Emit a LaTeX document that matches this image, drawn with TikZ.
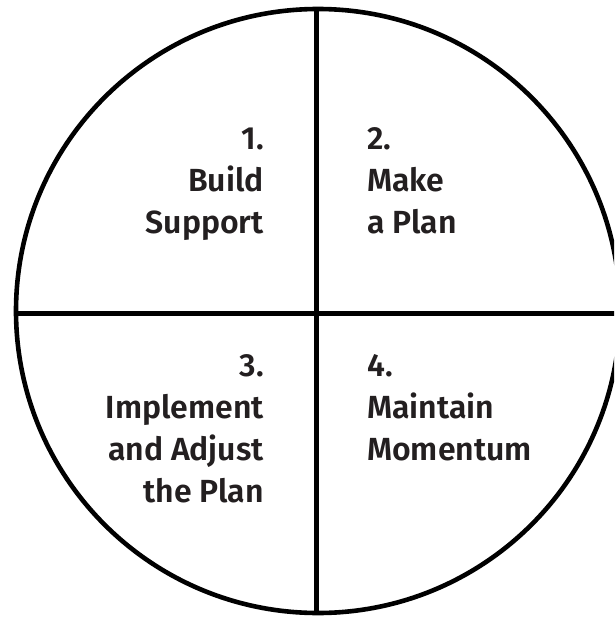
\documentclass[tikz,border=0pt]{standalone}
\usepackage{fontspec}
\setmainfont{Fira Sans}[BoldFont={Fira Sans SemiBold}]
\usetikzlibrary{positioning}
\definecolor{ink}{RGB}{35,31,32}

\begin{document}
\begin{tikzpicture}[x=1pt,y=-1pt,
  quarter/.style={font=\bfseries\fontsize{32}{42}\selectfont, text=ink, inner sep=0pt},
  rim/.style={line width=4.6pt}]
\clip (0,0) rectangle (614,618);

\coordinate (c) at (318,311);
\coordinate (top) at (316.5,8.5);
\coordinate (bot) at (316.5,613);
\coordinate (lft) at (16,313.5);
\coordinate (rgt) at (630,313.5);

\draw[rim] (c) circle (302pt);
\draw[rim] (top) -- (bot);
\draw[rim] (lft) -- (rgt);

% base anchor sits on the last line
\node[quarter, align=right, anchor=base east] (q1) at (264,233) {1.\\Build\\Support};
\node[quarter, align=left, anchor=base west] (q2) at (367,233) {2.\\Make\\a Plan};
\node[quarter, align=right, anchor=base east] (q3) at (264,502) {3.\\Implement\\and Adjust\\the Plan};
\node[quarter, align=left, anchor=base west] (q4) at (367,460) {4.\\Maintain\\Momentum};
\end{tikzpicture}
\end{document}
